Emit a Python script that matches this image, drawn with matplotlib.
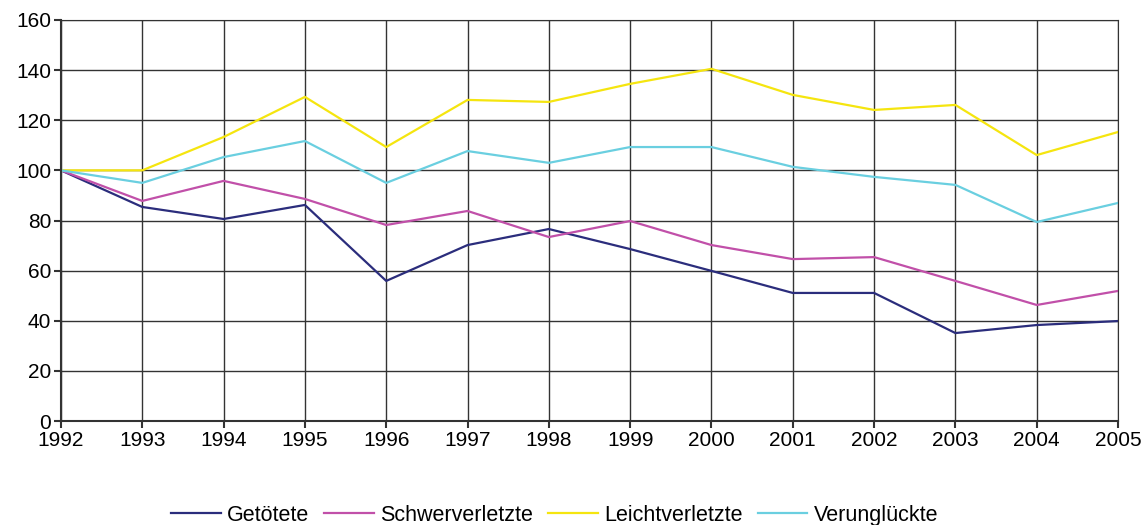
import numpy as np
import matplotlib
matplotlib.use("Agg")
import matplotlib.pyplot as plt

plt.rcParams["font.family"] = ["Liberation Sans", "DejaVu Sans"]

years = list(range(1992, 2006))
getoetete = [100, 85.4, 80.6, 86.2, 55.9, 70.2, 76.6, 68.6, 59.9, 51.1, 51.1, 35.1, 38.3, 39.9]
schwer = [100, 87.8, 95.8, 88.6, 78.2, 83.8, 73.4, 79.8, 70.2, 64.6, 65.4, 55.9, 46.3, 51.9]
leicht = [100, 100, 113.3, 129.3, 109.3, 128.1, 127.3, 134.5, 140.5, 130.1, 124.1, 126.1, 106.1, 115.3]
verungl = [100, 95.0, 105.3, 111.7, 95.0, 107.7, 103.0, 109.3, 109.3, 101.4, 97.4, 94.2, 79.4, 87.0]

series = [
    ("Getötete", getoetete, "#2b2d7c"),
    ("Schwerverletzte", schwer, "#c150a9"),
    ("Leichtverletzte", leicht, "#f5e50f"),
    ("Verunglückte", verungl, "#6acfe0"),
]

fig = plt.figure(figsize=(11.46, 5.25), dpi=100)
ax = fig.add_axes([0.0532, 0.198, 0.9224, 0.764])

for name, vals, col in series:
    ax.plot(years, vals, color=col, lw=1.6, label=name)

ax.set_xlim(1992, 2005)
ax.set_ylim(0, 160)
ax.set_xticks(years)
ax.set_yticks(range(0, 161, 20))
ax.grid(True, color="#333333", lw=1.0)
ax.set_axisbelow(True)
for s in ax.spines.values():
    s.set_color("#333333")
ax.spines["left"].set_linewidth(1.5)
ax.spines["bottom"].set_linewidth(1.5)
ax.tick_params(axis="both", labelsize=15, length=5, width=1.5, color="#333333",
               direction="out", pad=2)

ax.legend(loc="center", bbox_to_anchor=(0.467, -0.235), ncol=4, frameon=False,
          fontsize=15.5, handlelength=2.3, columnspacing=0.7, handletextpad=0.3)

fig.savefig("out.png", dpi=100)
